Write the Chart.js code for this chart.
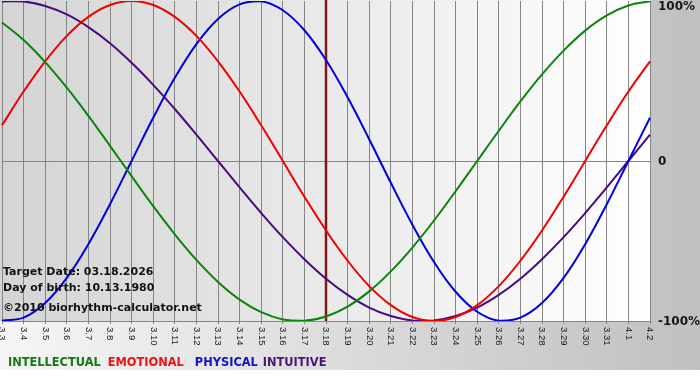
<!DOCTYPE html>
<html>
<head>
<meta charset="utf-8">
<script src="https://cdn.jsdelivr.net/npm/chart.js@4.4.1/dist/chart.umd.min.js"></script>
<style>
  html, body { margin: 0; padding: 0; background: #ffffff; }
  #wrap { width: 700px; height: 380px; }
</style>
</head>
<body>
<div id="wrap"><canvas id="c" width="700" height="380"></canvas></div>
<script>
// ---- data ----
const days = ['3.3','3.4','3.5','3.6','3.7','3.8','3.9','3.10','3.11','3.12','3.13','3.14','3.15','3.16','3.17','3.18','3.19','3.20','3.21','3.22','3.23','3.24','3.25','3.26','3.27','3.28','3.29','3.30','3.31','4.1','4.2'];
const intellectual = [86.6,75.6,61.8,45.8,28.2,9.5,-9.5,-28.2,-45.8,-61.8,-75.6,-86.6,-94.5,-99.0,-99.9,-97.2,-91.0,-81.5,-69.0,-54.1,-37.2,-18.9,0,18.9,37.2,54.1,69.0,81.5,91.0,97.2,99.9];
const emotional = [22.3,43.4,62.3,78.2,90.1,97.5,100,97.5,90.1,78.2,62.3,43.4,22.3,0,-22.3,-43.4,-62.3,-78.2,-90.1,-97.5,-100,-97.5,-90.1,-78.2,-62.3,-43.4,-22.3,0,22.3,43.4,62.3];
const physical = [-99.8,-97.9,-88.8,-73.1,-52.0,-27.0,0,27.0,52.0,73.1,88.8,97.9,99.8,94.2,81.7,63.1,39.8,13.6,-13.6,-39.8,-63.1,-81.7,-94.2,-99.8,-97.9,-88.8,-73.1,-52.0,-27.0,0,27.0];
const intuitive = [99.7,99.7,96.9,91.6,83.7,73.6,61.4,47.6,32.5,16.5,0,-16.5,-32.5,-47.6,-61.4,-73.6,-83.7,-91.6,-96.9,-99.7,-99.7,-96.9,-91.6,-83.7,-73.6,-61.4,-47.6,-32.5,-16.5,0,16.5];
const seriesNames = ['INTELLECTUAL','EMOTIONAL','PHYSICAL','INTUITIVE'];
const yTickValues = [100, 0, -100];
const yTickLabels = ['100%', '0', '-100%'];
const targetDay = '3.18';
const infoLines = ['Target Date: 03.18.2026', 'Day of birth: 10.13.1980', '\u00A92010 biorhythm-calculator.net'];

const lineColors = ['#0a860a', '#f00000', '#0000dd', '#4b0a82'];
const legendColors = ['#127a12', '#ee1111', '#1111cc', '#4a1478'];

const decor = {
  id: 'decor',
  beforeDraw(chart) {
    const ctx = chart.ctx, a = chart.chartArea;
    ctx.save();
    ctx.fillStyle = '#ffffff';
    ctx.fillRect(0, 0, chart.width, chart.height);
    const g = ctx.createLinearGradient(0, 0, chart.width, 0);
    g.addColorStop(0, 'rgb(246,246,246)');
    g.addColorStop(1, 'rgb(192,192,192)');
    ctx.fillStyle = g;
    ctx.fillRect(0, 0, chart.width, 370);
    const pg = ctx.createLinearGradient(0, 0, a.right, 0);
    pg.addColorStop(0, 'rgb(212,212,212)');
    pg.addColorStop(1, 'rgb(255,255,255)');
    ctx.fillStyle = pg;
    ctx.fillRect(0, 0, a.right, a.bottom);
    ctx.restore();
  },
  beforeDatasetsDraw(chart) {
    const ctx = chart.ctx, a = chart.chartArea;
    const x = Math.round(chart.scales.x.getPixelForValue(days.indexOf(targetDay)));
    ctx.save();
    ctx.strokeStyle = 'rgba(190,80,80,0.6)';
    ctx.lineWidth = 3.2;
    ctx.beginPath(); ctx.moveTo(x, a.top - 1); ctx.lineTo(x, a.bottom); ctx.stroke();
    ctx.strokeStyle = '#701010';
    ctx.lineWidth = 1.8;
    ctx.beginPath(); ctx.moveTo(x, a.top - 1); ctx.lineTo(x, a.bottom); ctx.stroke();
    ctx.restore();
  },
  afterDraw(chart) {
    const ctx = chart.ctx, a = chart.chartArea;
    const xs = chart.scales.x, ys = chart.scales.y;
    ctx.save();
    // x labels, rotated clockwise
    ctx.fillStyle = '#1a1a1a';
    ctx.font = '9.5px "Liberation Sans", Arial, sans-serif';
    ctx.textAlign = 'left';
    ctx.textBaseline = 'middle';
    days.forEach((d, i) => {
      const x = xs.getPixelForValue(i);
      ctx.save();
      ctx.translate(x, a.bottom + 6);
      ctx.rotate(Math.PI / 2);
      ctx.fillText(d, 0, 0);
      ctx.restore();
    });
    // y labels on the right
    ctx.fillStyle = '#151515';
    ctx.font = 'bold 12px "DejaVu Sans", Verdana, sans-serif';
    yTickValues.forEach((v, i) => {
      const y = Math.max(ys.getPixelForValue(v) + 1, a.top + 6);
      ctx.fillText(yTickLabels[i], a.right + 8, y);
    });
    // info text
    ctx.font = 'bold 11px "DejaVu Sans", Verdana, sans-serif';
    ctx.fillStyle = '#111';
    ctx.textBaseline = 'alphabetic';
    ctx.fillText(infoLines[0], 3, 275);
    ctx.fillText(infoLines[1], 3, 291);
    ctx.fillText(infoLines[2], 3, 311);
    // legend
    ctx.font = 'bold 11.4px "DejaVu Sans", Verdana, sans-serif';
    const gaps = [7, 11, 5, 0];
    let lx = 8;
    chart.data.datasets.forEach((ds, i) => {
      ctx.fillStyle = legendColors[i];
      ctx.fillText(ds.label, lx, 366);
      lx += ctx.measureText(ds.label).width + gaps[i];
    });
    ctx.restore();
  }
};

const mk = (label, data, i) => ({
  label, data,
  borderColor: lineColors[i],
  borderWidth: 2,
  pointRadius: 0,
  tension: 0.4,
  fill: false
});

new Chart(document.getElementById('c'), {
  type: 'line',
  data: {
    labels: days,
    datasets: [
      mk(seriesNames[0], intellectual, 0),
      mk(seriesNames[1], emotional, 1),
      mk(seriesNames[2], physical, 2),
      mk(seriesNames[3], intuitive, 3)
    ]
  },
  options: {
    responsive: false,
    animation: false,
    devicePixelRatio: 1,
    layout: { padding: { left: 2, right: 50, top: 1, bottom: 56 } },
    plugins: { legend: { display: false }, tooltip: { enabled: false } },
    scales: {
      x: {
        offset: false,
        grid: { color: '#858585', lineWidth: 1, drawTicks: true, tickLength: 3, tickColor: '#858585' },
        border: { display: true, color: '#858585' },
        ticks: { display: false, autoSkip: false }
      },
      y: {
        position: 'right',
        min: -100, max: 100,
        ticks: { display: false, stepSize: 100 },
        grid: { drawTicks: false, color: (c) => (c.tick && c.tick.value === 0) ? '#858585' : 'rgba(0,0,0,0)' },
        border: { display: false }
      }
    }
  },
  plugins: [decor]
});
</script>
</body>
</html>
